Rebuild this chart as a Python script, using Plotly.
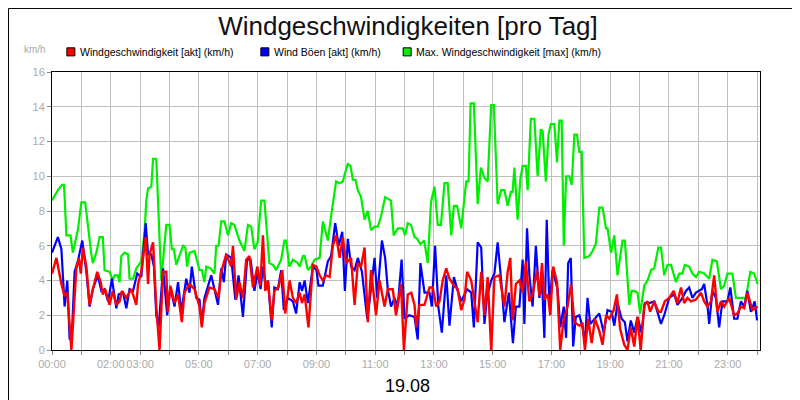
import plotly.graph_objects as go

# time in hours since 00:00, values in km/h
t_max = [0.0, 0.20, 0.34, 0.41, 0.49, 0.63, 0.71, 0.88, 1.0, 1.13, 1.34, 1.39, 1.51, 1.62, 1.73, 1.79, 1.96, 2.07, 2.13, 2.24, 2.30, 2.36, 2.47, 2.59, 2.64, 2.76, 2.87, 3.04, 3.15, 3.21, 3.27, 3.38, 3.44, 3.55, 3.72, 3.89, 4.0, 4.08, 4.15, 4.23, 4.46, 4.54, 4.60, 4.68, 4.85, 5.02, 5.10, 5.19, 5.25, 5.40, 5.53, 5.59, 5.67, 5.76, 5.87, 5.99, 6.10, 6.21, 6.38, 6.55, 6.67, 6.78, 6.89, 7.0, 7.12, 7.23, 7.40, 7.52, 7.63, 7.80, 7.91,
         7.97, 8.08, 8.2, 8.37, 8.43, 8.54, 8.6, 8.71, 8.82, 8.94, 9.11, 9.22, 9.39, 9.5, 9.67, 9.79, 9.9, 9.96, 10.07, 10.16, 10.24, 10.33, 10.41, 10.52, 10.64, 10.75, 10.86, 10.98, 11.09, 11.2, 11.34, 11.54, 11.63, 11.77, 11.94, 12.02, 12.11, 12.22, 12.34, 12.43, 12.54, 12.67, 12.79, 12.9, 13.02, 13.13, 13.24, 13.36, 13.47, 13.59, 13.68, 13.79, 13.93, 14.1, 14.18, 14.25, 14.36, 14.49, 14.6, 14.72, 14.83, 14.95, 15.04, 15.17, 15.29, 15.4, 15.51,
         15.62, 15.68, 15.74, 15.85, 15.94, 16.02, 16.13, 16.19, 16.3, 16.42, 16.53, 16.64, 16.7, 16.81, 16.9, 16.98, 17.1, 17.19, 17.27, 17.35, 17.42, 17.5, 17.61, 17.69, 17.78, 17.87, 17.95, 18.03, 18.12, 18.29, 18.4, 18.51, 18.63, 18.74, 18.86, 18.91, 19.03, 19.14, 19.25, 19.42, 19.5, 19.65, 19.73, 19.82, 19.93, 20.02, 20.16, 20.27, 20.39, 20.5, 20.64, 20.73, 20.84, 20.95, 21.07, 21.24, 21.35, 21.46, 21.54, 21.69, 21.8, 21.92, 22.03, 22.2, 22.37, 22.48, 22.63, 22.77, 22.88, 22.99, 23.16, 23.28, 23.45, 23.62, 23.77, 23.9, 24.02]
v_max = [8.6, 9.2, 9.5, 9.5, 6.6, 6.6, 5.6, 6.9, 8.5, 8.5, 5.5, 5.0, 5.6, 6.5, 6.5, 4.6, 4.5, 4.0, 4.3, 4.3, 3.9, 5.4, 5.6, 5.5, 4.1, 4.1, 4.7, 5.1, 6.8, 8.6, 9.3, 9.4, 11.0, 11.0, 4.0, 7.2, 7.2, 5.8, 5.8, 4.9, 6.0, 5.9, 4.8, 5.6, 5.7, 4.6, 4.6, 3.9, 4.8, 4.7, 4.4, 6.0, 6.0, 7.4, 7.4, 6.6, 7.3, 7.2, 6.3, 5.7, 7.2, 7.1, 5.8, 6.2, 8.6, 8.6, 5.0, 4.9, 4.6, 5.2, 6.3,
         6.3, 4.8, 5.2, 5.0, 4.8, 5.4, 5.4, 4.6, 4.8, 5.2, 5.3, 7.4, 6.3, 7.7, 9.7, 9.6, 9.7, 10.1, 10.7, 10.6, 9.8, 9.8, 9.2, 8.8, 7.5, 8.0, 6.9, 7.1, 7.1, 7.7, 8.8, 8.6, 6.6, 7.0, 7.0, 6.6, 7.3, 7.2, 6.5, 6.4, 6.1, 6.3, 5.0, 8.5, 9.4, 7.2, 7.2, 9.6, 9.6, 6.6, 8.3, 8.3, 7.0, 9.7, 9.7, 14.2, 14.2, 8.4, 10.5, 9.9, 9.7, 14.1, 14.1, 8.4, 9.2, 9.2, 8.3,
         9.1, 9.1, 10.5, 7.5, 9.8, 10.6, 10.6, 9.2, 13.3, 13.3, 10.0, 12.7, 12.6, 9.7, 12.4, 13.0, 13.0, 10.8, 13.2, 13.2, 6.0, 10.0, 10.0, 9.5, 12.4, 12.4, 11.4, 11.4, 5.3, 5.4, 5.7, 6.1, 8.2, 8.2, 7.0, 7.0, 5.6, 6.6, 4.3, 6.3, 6.3, 2.6, 3.4, 3.4, 3.3, 2.1, 3.7, 4.0, 4.6, 4.7, 5.9, 5.9, 4.3, 4.9, 4.9, 3.9, 4.4, 4.4, 4.9, 4.8, 4.4, 4.2, 4.5, 4.4, 4.1, 5.2, 5.1, 3.5, 3.7, 4.4, 4.4, 3.0, 3.0, 3.0, 4.5, 4.4, 3.8]

t_akt = [0.0, 0.15, 0.32, 0.43, 0.52, 0.6, 0.66, 0.75, 0.83, 0.91, 0.98, 1.05, 1.17, 1.28, 1.39, 1.54, 1.66, 1.73, 1.81, 1.96, 2.07, 2.19, 2.3, 2.38, 2.53, 2.7, 2.87, 2.93, 3.04, 3.19, 3.27, 3.32, 3.44, 3.55, 3.66, 3.78, 3.89, 3.94, 4.03, 4.17, 4.29, 4.42, 4.51, 4.68, 4.85, 5.02, 5.1, 5.19, 5.36, 5.53, 5.67, 5.76, 5.93, 6.1, 6.16, 6.27, 6.38, 6.5, 6.61, 6.72, 6.84, 6.99, 7.09, 7.18, 7.26, 7.35, 7.48, 7.57, 7.71, 7.84, 7.94,
         8.09, 8.2, 8.31, 8.43, 8.51, 8.6, 8.73, 8.88, 9.0, 9.11, 9.22, 9.33, 9.45, 9.56, 9.67, 9.79, 9.9, 10.01, 10.18, 10.3, 10.41, 10.52, 10.64, 10.75, 10.86, 11.03, 11.15, 11.32, 11.43, 11.6, 11.71, 11.88, 11.98, 12.11, 12.23, 12.34, 12.4, 12.51, 12.68, 12.85, 12.96, 13.08, 13.19, 13.3, 13.42, 13.53, 13.68, 13.81, 13.93, 14.04, 14.13, 14.27, 14.38, 14.49, 14.61, 14.72, 14.83, 14.95, 15.06, 15.23, 15.4, 15.51,
         15.6, 15.68, 15.79, 15.91, 16.02, 16.13, 16.25, 16.36, 16.51, 16.59, 16.68, 16.76, 16.88, 16.96, 17.06, 17.19, 17.3, 17.42, 17.55, 17.67, 17.78, 17.95, 18.06, 18.14, 18.25, 18.37, 18.48, 18.63, 18.74, 18.86, 18.97, 19.12, 19.23, 19.34, 19.48, 19.59, 19.7, 19.82, 19.93, 20.04, 20.16, 20.27, 20.36, 20.5, 20.64, 20.73, 20.86, 21.01, 21.16, 21.29, 21.41, 21.52, 21.63, 21.75, 21.92, 22.09, 22.2, 22.31, 22.43, 22.54, 22.65, 22.77, 22.88, 23.05, 23.22, 23.33, 23.45, 23.56, 23.67, 23.84, 24.02]
v_akt = [4.4, 5.3, 3.8, 3.1, 3.3, 1.0, 0.0, 2.5, 4.7, 5.3, 4.4, 5.9, 4.8, 2.6, 3.5, 4.5, 3.9, 3.2, 3.5, 2.6, 3.4, 2.6, 2.8, 3.4, 3.0, 3.5, 2.6, 3.8, 4.5, 6.5, 3.8, 5.5, 6.2, 2.5, 0.0, 4.5, 4.5, 2.2, 3.7, 2.7, 3.2, 1.6, 3.3, 3.8, 3.5, 2.5, 1.3, 2.7, 3.6, 3.5, 3.0, 4.5, 5.5, 4.8, 6.0, 2.9, 3.9, 3.0, 5.2, 5.4, 3.6, 4.8, 3.7, 6.6, 3.4, 4.0, 1.7, 3.4, 3.6, 4.6, 2.1,
         4.0, 3.0, 2.7, 3.3, 2.7, 3.2, 1.3, 4.9, 4.8, 4.3, 4.0, 4.3, 4.2, 6.0, 6.6, 5.3, 6.5, 5.0, 5.3, 2.6, 5.0, 4.8, 5.9, 1.6, 4.6, 2.0, 4.0, 2.5, 3.5, 3.5, 2.0, 3.8, 0.0, 3.2, 3.3, 2.6, 1.3, 2.6, 2.6, 3.6, 3.6, 2.5, 2.8, 4.0, 4.7, 4.1, 3.7, 3.5, 2.3, 2.9, 4.5, 4.0, 2.8, 1.6, 4.5, 2.0, 4.2, 0.0, 4.2, 4.3, 2.5, 4.5,
         5.3, 1.7, 3.8, 4.0, 3.3, 5.1, 2.8, 3.2, 4.6, 3.1, 5.0, 2.9, 3.2, 2.0, 4.8, 3.9, 0.0, 1.8, 2.5, 3.8, 1.6, 1.4, 1.5, 0.0, 1.8, 0.4, 1.8, 1.1, 0.3, 2.0, 1.8, 2.3, 3.2, 1.2, 0.3, 0.0, 1.3, 0.2, 1.9, 0.0, 2.6, 2.8, 2.2, 2.8, 2.2, 2.2, 2.8, 3.0, 3.4, 2.7, 3.6, 2.7, 3.0, 2.8, 2.9, 3.3, 2.8, 2.5, 2.8, 4.3, 2.2, 2.8, 2.5, 3.0, 2.0, 2.1, 2.5, 2.4, 3.3, 2.3, 2.5]

t_boe = [0.0, 0.2, 0.32, 0.43, 0.52, 0.6, 0.68, 0.77, 0.88, 1.03, 1.17, 1.28, 1.39, 1.56, 1.68, 1.79, 1.91, 2.04, 2.19, 2.27, 2.42, 2.53, 2.64, 2.76, 2.9, 3.04, 3.19, 3.27, 3.38, 3.47, 3.55, 3.63, 3.78, 3.92, 4.03, 4.17, 4.29, 4.4, 4.57, 4.68, 4.76, 4.91, 5.02, 5.1, 5.19, 5.42, 5.65, 5.76, 5.85, 5.93, 6.1, 6.24, 6.35, 6.5, 6.64, 6.76, 6.89, 7.0, 7.1, 7.18, 7.29, 7.35, 7.48, 7.57, 7.69, 7.8, 7.89,
         8.03, 8.2, 8.31, 8.43, 8.51, 8.6, 8.71, 8.88, 9.0, 9.07, 9.22, 9.39, 9.5, 9.64, 9.76, 9.88, 9.97, 10.07, 10.18, 10.3, 10.41, 10.55, 10.73, 10.81, 10.98, 11.07, 11.23, 11.34, 11.43, 11.54, 11.66, 11.77, 11.9, 12.0, 12.16, 12.34, 12.45, 12.54, 12.68, 12.85, 12.93, 13.04, 13.15, 13.27, 13.42, 13.53, 13.68, 13.81, 13.93, 14.13, 14.27, 14.36, 14.49, 14.61, 14.72, 14.81, 14.95, 15.06, 15.17, 15.29, 15.4, 15.55, 15.69,
         15.79, 15.91, 16.02, 16.08, 16.17, 16.25, 16.36, 16.47, 16.59, 16.68, 16.76, 16.84, 16.93, 17.04, 17.21, 17.3, 17.42, 17.5, 17.57, 17.66, 17.74, 17.83, 17.95, 18.06, 18.14, 18.23, 18.32, 18.48, 18.63, 18.78, 18.91, 19.05, 19.14, 19.25, 19.39, 19.5, 19.59, 19.7, 19.82, 19.93, 20.07, 20.18, 20.33, 20.5, 20.61, 20.73, 20.84, 21.01, 21.18, 21.29, 21.46, 21.58, 21.69, 21.8, 21.92, 22.03, 22.12, 22.2, 22.31, 22.37, 22.48, 22.6, 22.71, 22.82, 22.99, 23.09, 23.22, 23.33, 23.45, 23.56, 23.67, 23.79, 23.92, 24.0]
v_boe = [5.6, 6.5, 5.8, 2.5, 4.0, 0.6, 1.0, 4.5, 5.1, 6.3, 4.5, 2.5, 3.5, 4.3, 3.4, 3.5, 2.8, 4.1, 2.4, 3.2, 3.3, 2.4, 3.5, 3.4, 4.4, 4.2, 7.3, 5.5, 5.5, 4.8, 2.0, 1.3, 4.7, 2.0, 3.6, 2.5, 3.9, 2.2, 4.1, 3.3, 4.8, 3.0, 2.9, 1.5, 3.0, 4.3, 2.6, 4.7, 3.9, 5.5, 5.3, 2.9, 4.3, 1.9, 5.2, 5.2, 3.4, 4.5, 3.5, 4.8, 3.5, 4.0, 1.3, 3.6, 3.5, 4.6, 2.3,
         3.0, 2.8, 2.1, 3.9, 3.4, 4.0, 2.7, 4.8, 4.6, 3.7, 3.7, 5.1, 5.4, 7.3, 6.0, 6.8, 3.4, 6.4, 4.8, 4.6, 5.3, 4.5, 1.8, 2.8, 5.3, 3.0, 6.3, 5.3, 3.5, 2.5, 3.0, 2.5, 5.2, 1.8, 2.0, 1.9, 0.6, 5.0, 3.3, 3.3, 2.5, 6.0, 2.5, 1.0, 4.3, 1.4, 4.2, 3.4, 2.8, 3.5, 3.3, 1.3, 6.2, 5.9, 1.5, 3.1, 4.0, 4.4, 6.2, 4.0, 1.6, 3.3, 0.4,
         2.5, 2.5, 5.2, 1.5, 7.0, 4.3, 2.5, 6.0, 3.0, 4.0, 0.7, 7.5, 2.6, 4.6, 3.5, 1.3, 2.5, 0.7, 5.0, 5.3, 0.2, 1.9, 2.0, 1.3, 0.4, 3.0, 1.5, 1.8, 2.1, 1.0, 2.3, 2.2, 1.4, 2.7, 1.8, 1.6, 0.5, 1.7, 1.0, 1.9, 1.0, 2.7, 2.7, 2.8, 2.2, 1.5, 2.0, 3.0, 3.2, 2.6, 3.0, 3.4, 3.6, 3.0, 3.3, 3.4, 3.5, 3.8, 2.6, 1.5, 3.4, 3.0, 1.3, 2.8, 2.8, 3.6, 1.8, 1.8, 2.8, 2.5, 3.4, 2.2, 2.8, 1.7]

tick_hours = [0, 2, 3, 5, 7, 9, 11, 13, 15, 17, 19, 21, 23]
tick_text = ["00:00", "02:00", "03:00", "05:00", "07:00", "09:00", "11:00", "13:00", "15:00", "17:00", "19:00", "21:00", "23:00"]

names = ["Windgeschwindigkeit [akt] (km/h)", "Wind Böen [akt] (km/h)", "Max. Windgeschwindigkeit [max] (km/h)"]
colors = ["#ff0000", "#0000ff", "#00ee00"]
legend_x = [0.021, 0.295, 0.496]   # paper x of the legend squares

fig = go.Figure()
fig.add_trace(go.Scatter(x=t_max, y=v_max, mode="lines", line=dict(color=colors[2], width=2.2), showlegend=False))
fig.add_trace(go.Scatter(x=t_boe, y=v_boe, mode="lines", line=dict(color=colors[1], width=2.2), showlegend=False))
fig.add_trace(go.Scatter(x=t_akt, y=v_akt, mode="lines", line=dict(color=colors[0], width=2.4), showlegend=False))

grid_hours = list(range(0, 25))
xt_text = [tick_text[tick_hours.index(h)] if h in tick_hours else "" for h in grid_hours]

annotations = [
    dict(text="km/h", xref="paper", yref="paper", x=-0.005, y=1.055, xanchor="right",
         yanchor="bottom", showarrow=False, font=dict(size=10, color="#aaaaaa")),
    dict(text="19.08", xref="paper", yref="paper", x=0.502, y=-0.129, xanchor="center",
         yanchor="middle", showarrow=False, font=dict(size=18, color="#000")),
]
shapes = [dict(type="rect", xref="paper", yref="paper", x0=-0.0614, x1=1.0657, y0=-0.2032, y1=1.2285,
               line=dict(color="#000", width=1))]
for name, c, lx in zip(names, colors, legend_x):
    shapes.append(dict(type="rect", xref="paper", yref="paper", x0=lx, x1=lx + 0.0113,
                       y0=1.058, y1=1.087, fillcolor=c, line=dict(color="#000", width=1)))
    annotations.append(dict(text=name, xref="paper", yref="paper", x=lx + 0.016, y=1.072,
                            xanchor="left", yanchor="middle", showarrow=False,
                            font=dict(size=10.5, color="#000")))

fig.update_layout(
    width=800, height=400,
    margin=dict(l=44, r=48, t=64, b=58, autoexpand=False),
    paper_bgcolor="white", plot_bgcolor="white",
    showlegend=False,
    font=dict(family="Liberation Sans, Arial, sans-serif", size=11, color="#aaaaaa"),
    title=dict(text="Windgeschwindigkeiten [pro Tag]", x=0.5, xanchor="center",
               y=0.955, yanchor="middle", font=dict(size=26, color="#111111")),
    xaxis=dict(range=[0, 24.1], tickvals=grid_hours, ticktext=xt_text, tickangle=0, automargin=False,
               showgrid=True, gridcolor="#c0c0c0", gridwidth=1, ticks="outside", ticklen=4,
               tickcolor="#888", showline=True, linecolor="#000", linewidth=1, mirror=True,
               zeroline=False, tickfont=dict(color="#aaaaaa", size=11)),
    yaxis=dict(range=[0, 16], dtick=2, showgrid=True, gridcolor="#c0c0c0", gridwidth=1, automargin=False,
               ticks="outside", ticklen=4, tickcolor="#888", showline=True, linecolor="#000",
               linewidth=1, mirror=True, zeroline=False, tickfont=dict(color="#aaaaaa", size=11)),
    annotations=annotations,
    shapes=shapes,
)

fig.write_html("out.html")
